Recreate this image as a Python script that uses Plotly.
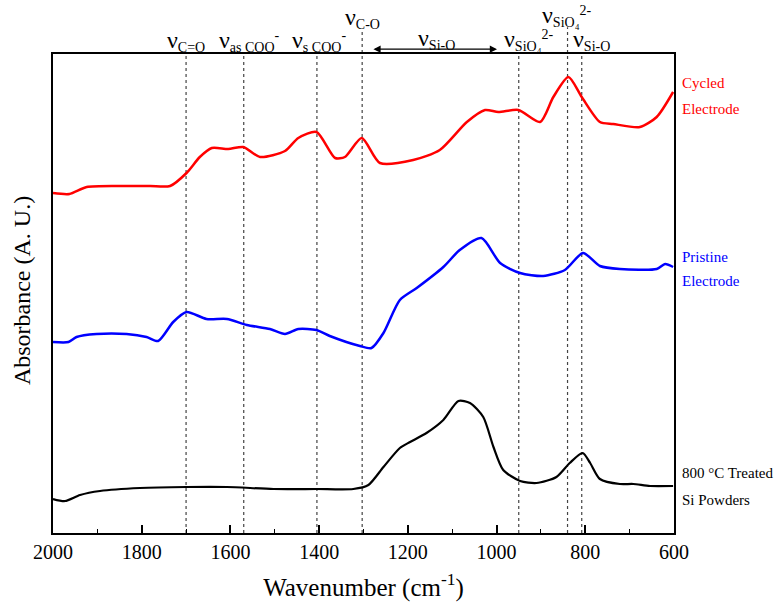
import plotly.graph_objects as go

# ---- data (wavenumber in cm^-1, absorbance in arbitrary units) ----
cycled_x = [2000, 1963, 1924, 1842, 1781, 1736, 1699, 1669, 1642, 1605, 1571, 1533, 1477, 1447,
            1406, 1364, 1342, 1304, 1263, 1188, 1128, 1067, 1026, 996, 951, 902, 872, 838, 808,
            767, 737, 677, 639, 602]
cycled_y = [3.40, 3.39, 3.46, 3.47, 3.47, 3.47, 3.60, 3.76, 3.85, 3.84, 3.86, 3.76, 3.82, 3.95,
            4.01, 3.75, 3.76, 3.95, 3.70, 3.73, 3.83, 4.11, 4.23, 4.21, 4.23, 4.11, 4.36, 4.56, 4.36,
            4.11, 4.09, 4.06, 4.16, 4.41]

pristine_x = [2000, 1965, 1947, 1902, 1834, 1789, 1763, 1729, 1699, 1654, 1608, 1563, 1511, 1477,
              1447, 1406, 1376, 1308, 1282, 1255, 1218, 1180, 1120, 1083, 1034, 992, 947, 895, 846,
              805, 767, 722, 639, 620, 602]
pristine_y = [1.91, 1.91, 1.96, 1.99, 1.99, 1.96, 1.92, 2.11, 2.21, 2.14, 2.14, 2.08, 2.04, 1.99,
              2.04, 2.03, 1.97, 1.87, 1.85, 2.00, 2.33, 2.45, 2.66, 2.83, 2.95, 2.70, 2.60, 2.57, 2.63,
              2.80, 2.67, 2.64, 2.64, 2.69, 2.66]

treated_x = [2000, 1973, 1939, 1894, 1804, 1699, 1608, 1503, 1406, 1323, 1289, 1255, 1218, 1195,
             1158, 1120, 1086, 1060, 1030, 1007, 985, 947, 910, 865, 835, 806, 789, 767, 722, 692,
             654, 602]
treated_y = [0.34, 0.32, 0.38, 0.42, 0.45, 0.46, 0.46, 0.44, 0.44, 0.44, 0.48, 0.66, 0.85, 0.91,
             1.00, 1.13, 1.32, 1.30, 1.16, 0.86, 0.63, 0.52, 0.50, 0.56, 0.70, 0.80, 0.70, 0.54, 0.49,
             0.49, 0.47, 0.47]

band_lines = [1700, 1570, 1405, 1303, 950, 840, 808]
band_line_tops = [1.0, 1.0, 1.0, 1.05, 1.0, 1.056, 1.0]
x_ticks = [2000, 1800, 1600, 1400, 1200, 1000, 800, 600]

NU = "<span style='font-size:24px'>ν</span>"
band_labels = [
    (1700, 1.028, NU + "<sub>C=O</sub>"),
    (1556, 1.028, NU + "<sub>as COO</sub><sup>-</sup>"),
    (1400, 1.028, NU + "<sub>s COO</sub><sup>-</sup>"),
    (1303, 1.076, NU + "<sub>C-O</sub>"),
    (1135, 1.032, NU + "<sub>Si-O</sub>"),
    (927, 1.030, NU + "<sub>SiO₄</sub><sup>2-</sup>"),
    (841, 1.080, NU + "<sub>SiO₄</sub><sup>2-</sup>"),
    (787, 1.030, NU + "<sub>Si-O</sub>"),
]

side_labels = [
    ("Cycled", 0.939, "#ff0000"),
    ("Electrode", 0.885, "#ff0000"),
    ("Pristine", 0.577, "#0000ff"),
    ("Electrode", 0.526, "#0000ff"),
    ("800 °C Treated", 0.125, "#000000"),
    ("Si Powders", 0.069, "#000000"),
]

FONT = "Liberation Serif"

fig = go.Figure()
for xs, ys, col, w in [(cycled_x, cycled_y, "#ff0000", 2.5),
                       (pristine_x, pristine_y, "#0000ff", 2.5),
                       (treated_x, treated_y, "#000000", 2.2)]:
    fig.add_trace(go.Scatter(x=xs, y=ys, mode="lines",
                             line=dict(color=col, width=w, shape="spline", smoothing=0.7),
                             showlegend=False, hoverinfo="skip"))

for xv, top in zip(band_lines, band_line_tops):
    fig.add_shape(type="line", xref="x", yref="paper", x0=xv, x1=xv, y0=0, y1=top,
                  line=dict(color="#444444", width=1.2, dash="dot"), layer="below")

for xv, yv, txt in band_labels:
    fig.add_annotation(x=xv, y=yv, xref="x", yref="paper", text=txt, showarrow=False,
                       font=dict(family=FONT, size=20, color="black"),
                       xanchor="center", yanchor="middle")

# double-headed arrow for the Si-O range
fig.add_annotation(x=999, y=1.010, xref="x", yref="paper", ax=1281, ay=0,
                   axref="x", ayref="pixel", text="", showarrow=True,
                   arrowhead=2, startarrowhead=2, arrowside="end+start",
                   arrowsize=1.2, arrowwidth=1.2, arrowcolor="black")

for txt, yv, col in side_labels:
    fig.add_annotation(x=1.01, y=yv, xref="paper", yref="paper", text=txt, showarrow=False,
                       font=dict(family=FONT, size=15, color=col),
                       xanchor="left", yanchor="middle")

fig.add_annotation(x=-0.05, y=0.507, xref="paper", yref="paper", text="Absorbance (A. U.)",
                   textangle=-90, showarrow=False, font=dict(family=FONT, size=24, color="black"),
                   xanchor="center", yanchor="middle")

fig.update_xaxes(range=[2000, 600], tickvals=x_ticks, ticks="inside", ticklen=8, tickwidth=1.5,
                 tickcolor="black", showline=True, linecolor="black", linewidth=2, mirror=True,
                 showgrid=False, zeroline=False,
                 tickfont=dict(family=FONT, size=20, color="black"),
                 minor=dict(dtick=100, ticks="inside", ticklen=4, tickwidth=1.2, tickcolor="black"),
                 title=dict(text="Wavenumber (cm<sup>-1</sup>)", standoff=16,
                            font=dict(family=FONT, size=25, color="black")))
fig.update_yaxes(range=[0, 4.79], showticklabels=False, ticks="", showline=True, linecolor="black",
                 linewidth=2, mirror=True, showgrid=False, zeroline=False)

fig.update_layout(width=781, height=609, margin=dict(l=53, r=107, t=54, b=76),
                  paper_bgcolor="white", plot_bgcolor="white", font=dict(family=FONT))

fig.write_html("out.html", config={"displayModeBar": False},
               post_script="document.body.style.margin='0';")
